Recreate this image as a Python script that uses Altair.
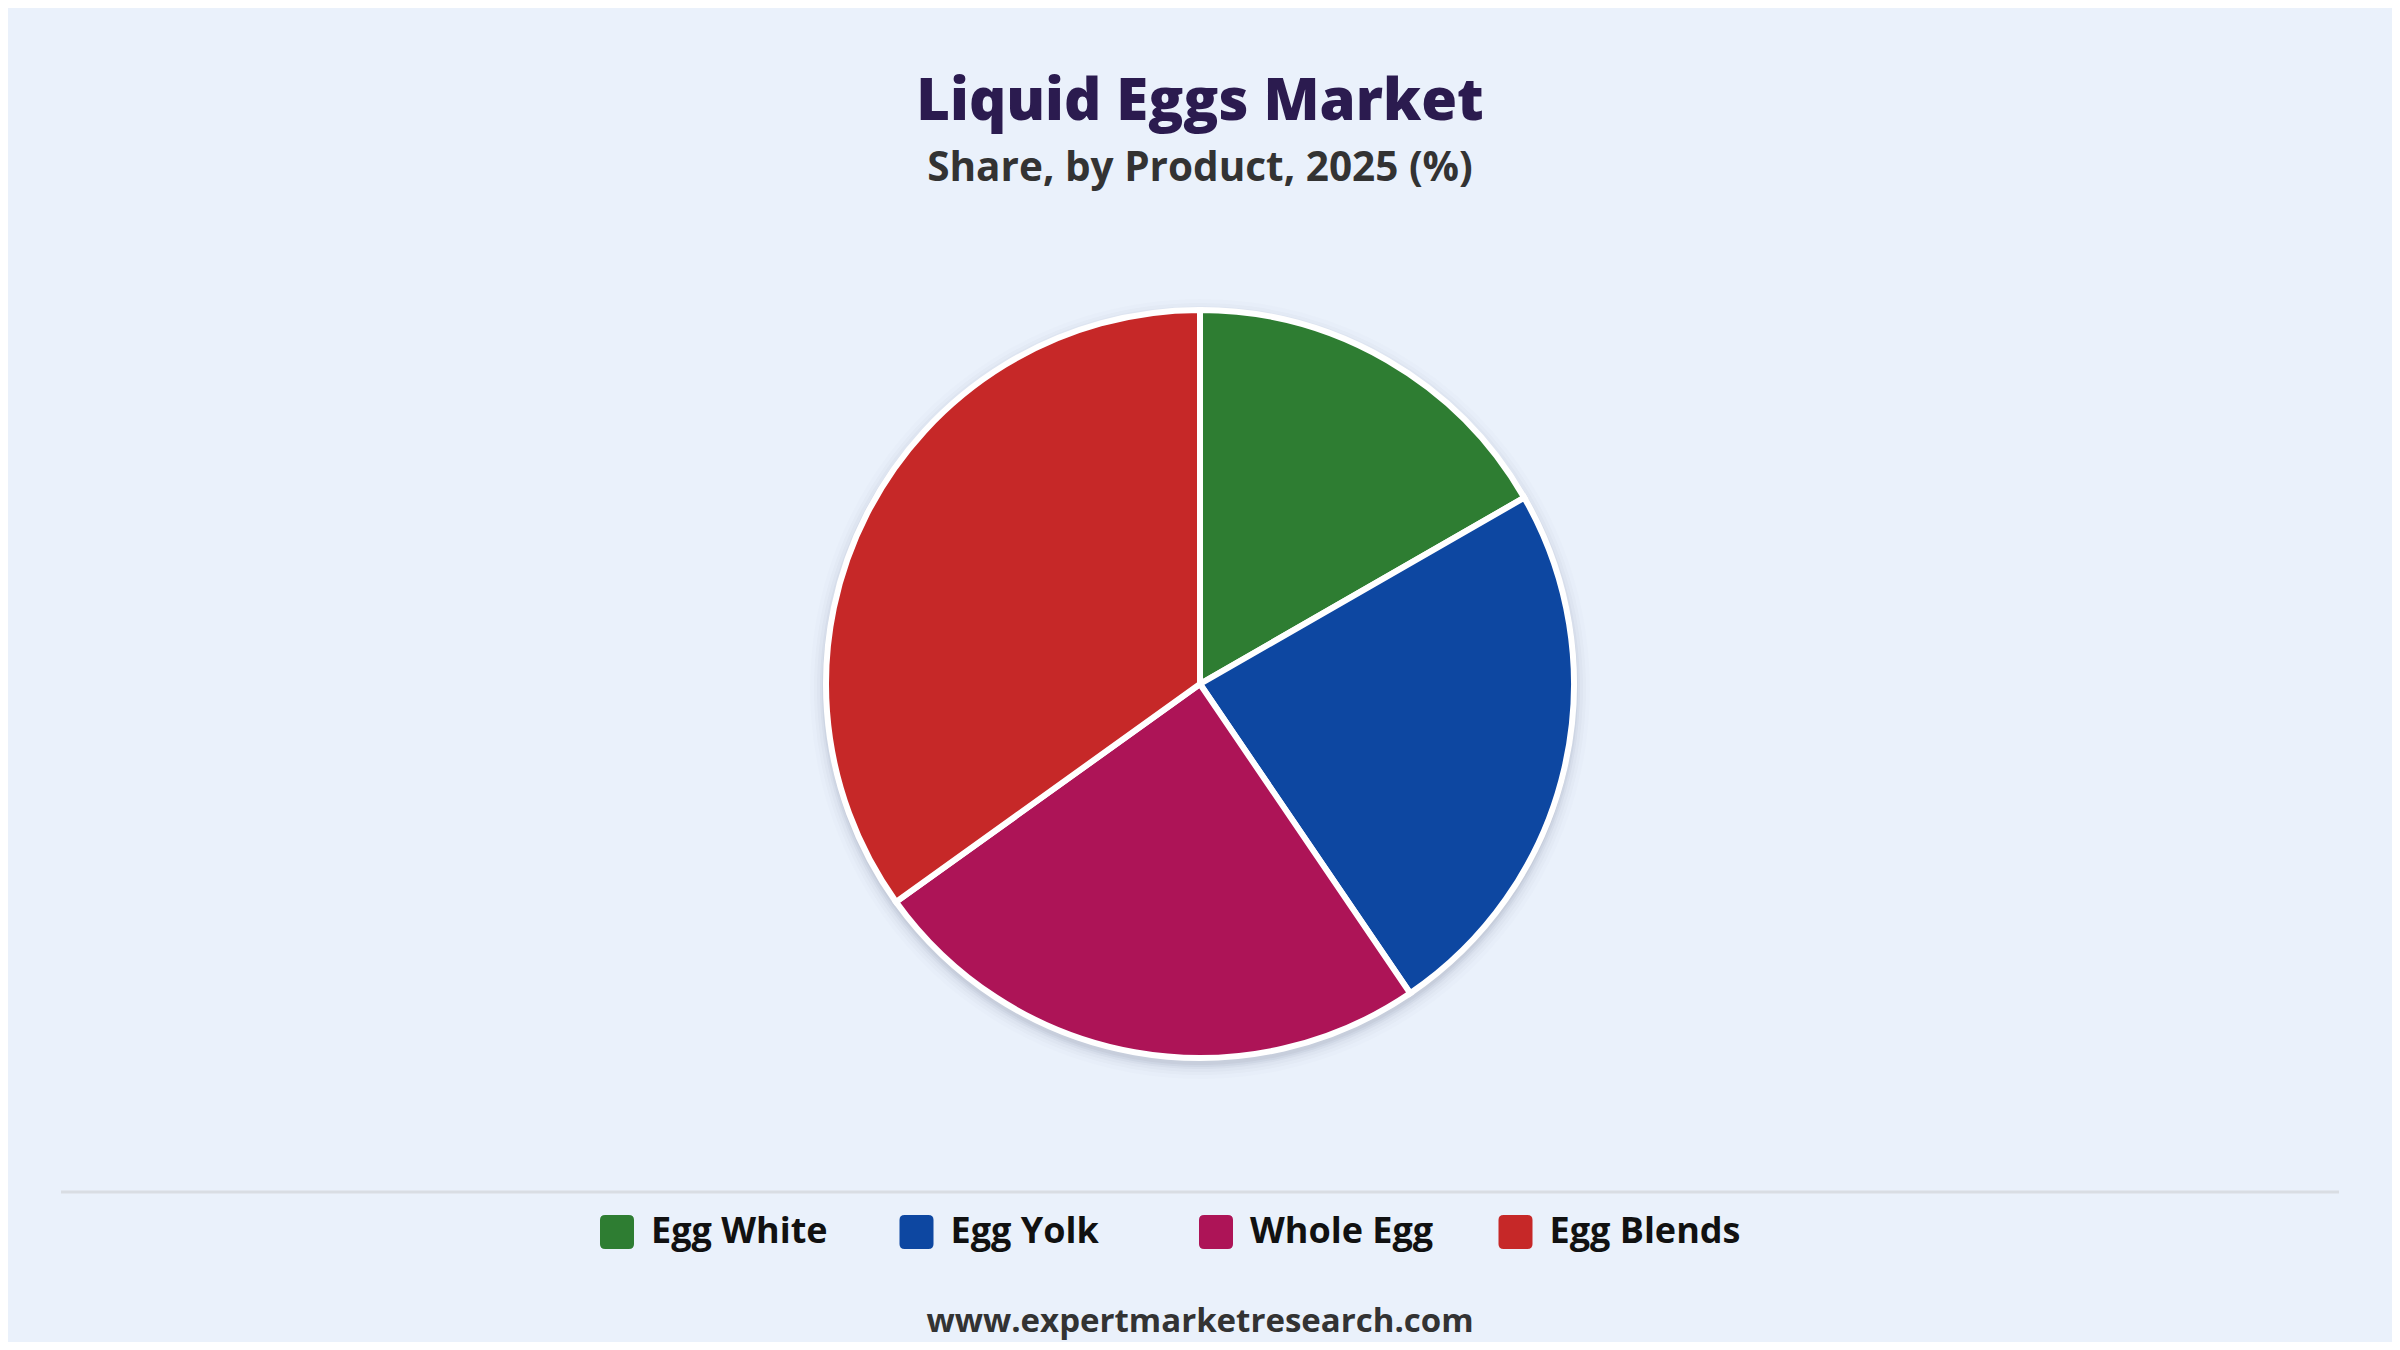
import altair as alt
import pandas as pd

# ---- data ----
categories = ["Egg White", "Egg Yolk", "Whole Egg", "Egg Blends"]
shares = [16.7, 23.8, 24.6, 34.9]
colors = ["#2E7D32", "#0D47A1", "#AD1457", "#C62828"]

title_text = ["Liquid Eggs Market"]
subtitle_text = ["Share, by Product, 2025 (%)"]
footer_text = ["www.expertmarketresearch.com"]

df = pd.DataFrame({"product": categories, "share": shares, "order": list(range(len(categories)))})

W, H = 2384, 1334
CX, CY = 1192, 676
R = 374
BG = "#EAF1FB"
FONT = "Open Sans"

rounded_square = ("M -0.7 -1 L 0.7 -1 Q 1 -1 1 -0.7 L 1 0.7 Q 1 1 0.7 1 "
                  "L -0.7 1 Q -1 1 -1 0.7 L -1 -0.7 Q -1 -1 -0.7 -1 Z")

base = alt.Chart(df)

theta = alt.Theta("share:Q", stack=True)
order = alt.Order("order:Q", sort="ascending")

# soft shadow rings
shadows = []
for extra, op in [(2, 0.045), (4, 0.04), (6, 0.03), (9, 0.025), (12, 0.02), (16, 0.012)]:
    shadows.append(
        base.mark_arc(outerRadius=R + extra, yOffset=5, strokeWidth=0)
        .encode(theta=theta, order=order, x=alt.value(CX), y=alt.value(CY),
                color=alt.value("#1b2a4a"), opacity=alt.value(op))
    )

pie = base.mark_arc(outerRadius=R, stroke="white", strokeWidth=6).encode(
    theta=theta,
    order=order,
    x=alt.value(CX),
    y=alt.value(CY),
    color=alt.Color(
        "product:N",
        scale=alt.Scale(domain=categories, range=colors),
        sort=categories,
        legend=alt.Legend(
            title=None,
            orient="none",
            legendX=591,
            legendY=1206,
            direction="horizontal",
            columns=4,
            gridAlign="all",
            columnPadding=56.5,
            padding=0,
            symbolType=rounded_square,
            symbolSize=1156,
            symbolStrokeWidth=0,
            symbolOpacity=1,
            labelOffset=16,
            labelFont=FONT,
            labelFontSize=36,
            labelFontWeight="bold",
            labelColor="#111111",
            labelLimit=400,
        ),
    ),
)

title = alt.Chart(pd.DataFrame({"t": title_text})).mark_text(
    font=FONT, fontSize=58, fontWeight=800, color="#2B1B4F", align="center", baseline="alphabetic"
).encode(text="t:N", x=alt.value(CX), y=alt.value(112))

subtitle = alt.Chart(pd.DataFrame({"t": subtitle_text})).mark_text(
    font=FONT, fontSize=40.5, fontWeight="bold", color="#333333", align="center", baseline="alphabetic"
).encode(text="t:N", x=alt.value(CX), y=alt.value(173))

separator = alt.Chart(pd.DataFrame({"a": [0]})).mark_rule(color="#D9DDE3", strokeWidth=3).encode(
    x=alt.value(53), x2=alt.value(2331), y=alt.value(1184)
)

footer = alt.Chart(pd.DataFrame({"t": footer_text})).mark_text(
    font=FONT, fontSize=33, fontWeight="bold", color="#333333", align="center", baseline="alphabetic"
).encode(text="t:N", x=alt.value(CX), y=alt.value(1324))

chart = alt.layer(*shadows, pie, title, subtitle, separator, footer).properties(
    width=W, height=H, background=BG, padding=0, autosize=alt.AutoSizeParams(type="none")
).configure_view(stroke=None)

chart.save("out.html", embed_options={"renderer": "svg", "actions": False})
